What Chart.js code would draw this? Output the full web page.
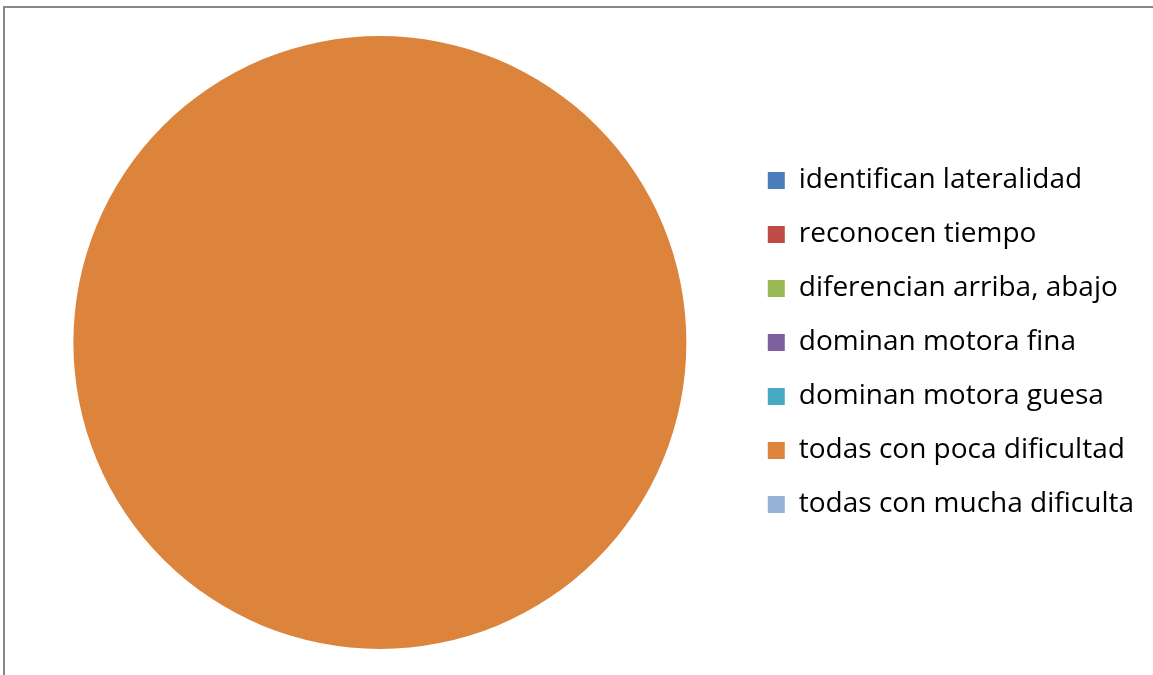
<!DOCTYPE html>
<html>
<head>
<meta charset="utf-8">
<script src="https://cdn.jsdelivr.net/npm/chart.js@4/dist/chart.umd.min.js"></script>
<style>
  html, body { margin: 0; padding: 0; background: #fff; overflow: hidden; }
  #frame {
    position: absolute; left: 3px; top: 6px; width: 1200px; height: 720px;
    border-top: 2px solid #888; border-left: 2px solid #888;
  }
  #myChart { position: absolute; left: 0; top: 0; }
</style>
</head>
<body>
<div id="frame"></div>
<canvas id="myChart" width="1153" height="675"></canvas>
<script>
// categories and values: only one slice is drawn
var categories = [
  'identifican lateralidad',
  'reconocen tiempo',
  'diferencian arriba, abajo',
  'dominan motora fina',
  'dominan motora guesa',
  'todas con poca dificultad',
  'todas con mucha dificulta'
];
var values = [0, 0, 0, 0, 0, 100, 0];
var colors = ['#4A7EBB', '#BE4B48', '#98B954', '#7D60A0', '#46AAC5', '#DD843C', '#95B3D7'];

var ctx = document.getElementById('myChart').getContext('2d');
var myPieChart = new Chart(ctx, {
  type: 'pie',
  data: {
    labels: categories,
    datasets: [{
      data: values,
      backgroundColor: colors,
      borderWidth: 0
    }]
  },
  options: {
    responsive: false,
    animation: false,
    layout: { padding: { left: 18, top: 36, bottom: 26, right: 9 } },
    plugins: {
      tooltip: { enabled: false },
      legend: {
        position: 'right',
        labels: {
          boxWidth: 17,
          boxHeight: 17,
          padding: 26,
          color: '#000',
          font: { family: 'Open Sans', size: 28 }
        }
      }
    }
  }
});
</script>
</body>
</html>
